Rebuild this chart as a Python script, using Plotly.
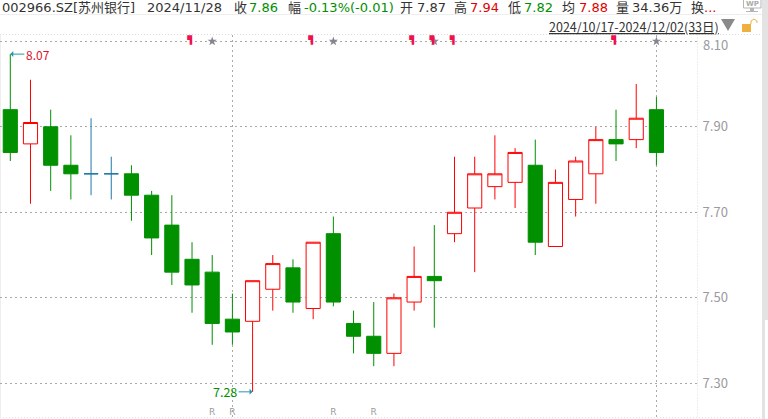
import plotly.graph_objects as go

dates = ["10/17","10/18","10/21","10/22","10/23","10/24","10/25","10/28","10/29","10/30","10/31",
         "11/01","11/04","11/05","11/06","11/07","11/08","11/11","11/12","11/13","11/14","11/15",
         "11/18","11/19","11/20","11/21","11/22","11/25","11/26","11/27","11/28","11/29","12/02"]
opens  = [7.94,7.86,7.90,7.81,7.79,7.79,7.79,7.74,7.67,7.59,7.56,7.45,7.445,7.52,7.57,7.475,7.65,7.44,7.41,7.37,7.49,7.55,7.65,7.71,7.76,7.77,7.81,7.62,7.73,7.79,7.87,7.87,7.94]
closes = [7.84,7.91,7.81,7.79,7.79,7.79,7.74,7.64,7.56,7.53,7.44,7.42,7.54,7.58,7.49,7.63,7.49,7.41,7.37,7.50,7.55,7.54,7.70,7.79,7.79,7.84,7.63,7.77,7.82,7.87,7.86,7.92,7.84]
highs  = [8.07,8.01,7.94,7.88,7.92,7.83,7.81,7.75,7.74,7.63,7.60,7.51,7.54,7.60,7.59,7.63,7.69,7.47,7.49,7.51,7.62,7.67,7.83,7.83,7.88,7.85,7.87,7.80,7.83,7.90,7.94,8.00,7.97]
lows   = [7.82,7.72,7.75,7.73,7.74,7.73,7.68,7.60,7.53,7.465,7.39,7.39,7.28,7.47,7.465,7.45,7.48,7.37,7.34,7.34,7.47,7.43,7.63,7.56,7.73,7.71,7.60,7.62,7.69,7.72,7.82,7.85,7.81]
doji_dates = ["10/23","10/24"]
y_ticks = [7.30,7.50,7.70,7.90,8.10]
month_starts = ["11/01","12/02"]
flag_dates = ["10/30","11/07","11/14","11/15","11/18","11/28"]
star_dates = ["10/31","11/08","11/15","12/02"]
r_dates = ["10/31","11/01","11/08","11/12"]
flag_level = 8.10
r_level = 7.231

header = [(1,"002966.SZ[苏州银行]","#333"),(146,"2024/11/28","#333"),(233,"收","#333"),(248,"7.86","#008f00"),
          (287,"幅","#333"),(303,"-0.13%(-0.01)","#008f00"),(399,"开","#333"),(416,"7.87","#333"),
          (453,"高","#333"),(469,"7.94","#e00000"),(507,"低","#333"),(523,"7.82","#008f00"),
          (561,"均","#333"),(578,"7.88","#e00000"),(615,"量","#333"),(631,"34.36万","#333"),
          (690,"换","#333"),(703,"...","#e00000")]
range_text = "2024/10/17-2024/12/02(33日)"

W, H = 768, 419
L, R, T, B = 0, 71, 35, 1
def px(x): return (x - L) / (W - L - R)
def py(y): return 1 - (y - T) / (H - T - B)
FONT = "Noto Sans CJK SC"
HFONT = "DejaVu Sans, Noto Sans CJK SC"
GREEN, RED, BLUE = "#009000", "#ff0000", "#1f78a8"

keep = [i for i, d in enumerate(dates) if d not in doji_dates]
dj = [i for i, d in enumerate(dates) if d in doji_dates]
def pick(a, idx): return [a[i] for i in idx]

fig = go.Figure()
fig.add_trace(go.Candlestick(x=pick(dates, keep), open=pick(opens, keep), high=pick(highs, keep),
    low=pick(lows, keep), close=pick(closes, keep), whiskerwidth=0,
    increasing=dict(line=dict(color=RED, width=1), fillcolor="#ffffff"),
    decreasing=dict(line=dict(color=GREEN, width=1), fillcolor=GREEN)))
fig.add_trace(go.Candlestick(x=pick(dates, dj), open=pick(opens, dj), high=pick(highs, dj),
    low=pick(lows, dj), close=pick(closes, dj), whiskerwidth=0,
    increasing=dict(line=dict(color=BLUE, width=1), fillcolor=BLUE),
    decreasing=dict(line=dict(color=BLUE, width=1), fillcolor=BLUE)))
fig.add_trace(go.Scatter(x=star_dates, y=[flag_level]*len(star_dates), mode="markers", cliponaxis=False,
    marker=dict(symbol="star", size=7, color="#85858f", line=dict(width=0))))
fig.add_trace(go.Scatter(x=flag_dates, y=[flag_level]*len(flag_dates), mode="text", text=["▜"]*len(flag_dates),
    textposition="middle left", cliponaxis=False,
    textfont=dict(family="DejaVu Sans Mono", size=8, color="#f0104f")))
fig.add_trace(go.Scatter(x=r_dates, y=[r_level]*len(r_dates), mode="text", text=["R"]*len(r_dates),
    textposition="middle center", textfont=dict(family="DejaVu Sans", size=9, color="#9a9a9a")))

ann = [dict(xref="paper", yref="paper", x=px(xp), y=py(7.5), text=t, showarrow=False, xanchor="left",
            yanchor="middle", borderpad=0, font=dict(family=HFONT, size=13, color=c)) for xp, t, c in header]
ann.append(dict(xref="paper", yref="paper", x=px(720), y=py(26), text="<u>%s</u>" % range_text, showarrow=False,
                xanchor="right", yanchor="middle", borderpad=0, font=dict(family=FONT, size=12.5, color="#333")))
ann.append(dict(xref="paper", yref="paper", x=px(752), y=py(4), text="<b>WP</b>", showarrow=False, borderpad=0,
                xanchor="center", yanchor="middle", font=dict(family="DejaVu Sans", size=7, color="#aaa")))
ann.append(dict(x=dates[highs.index(max(highs))], y=max(highs), text="8.07", showarrow=True, axref="pixel", ayref="pixel",
                ax=14, ay=0, xanchor="left", standoff=0, arrowhead=1, arrowwidth=1, arrowsize=1, arrowcolor="#2a95b0",
                font=dict(family=FONT, size=12, color="#e0102a")))
ann.append(dict(x=dates[lows.index(min(lows))], y=min(lows), text="7.28", showarrow=True, axref="pixel", ayref="pixel",
                ax=-14, ay=0, xanchor="right", standoff=0, arrowhead=1, arrowwidth=1, arrowsize=1, arrowcolor="#2a95b0",
                font=dict(family=FONT, size=12.5, color="#008f00")))
ann.append(dict(xref="paper", yref="y", x=px(702), y=y_ticks[-1], yshift=-3, text="%.2f" % y_ticks[-1], showarrow=False,
                xanchor="left", yanchor="middle", borderpad=0, font=dict(family=FONT, size=13, color="#9a9aa0")))

def rect(x0, y0, x1, y1, fill, line=None):
    return dict(type="rect", xref="paper", yref="paper", x0=px(x0), x1=px(x1), y0=py(y0), y1=py(y1),
                fillcolor=fill, line=dict(width=0 if line is None else 1, color=line or fill), layer="above")
def seg(x0, y0, x1, y1, color, dash="solid", width=1):
    return dict(type="line", xref="paper", yref="paper", x0=px(x0), x1=px(x1), y0=py(y0), y1=py(y1),
                line=dict(color=color, width=width, dash=dash), layer="below")
def path(d, fill, line="rgba(0,0,0,0)", width=0):
    return dict(type="path", xref="paper", yref="paper", path=d, fillcolor=fill, line=dict(color=line, width=width), layer="above")
def P(pts, close=True):
    return "M " + " L ".join(f"{px(x):.5f} {py(y):.5f}" for x, y in pts) + (" Z" if close else "")

shapes = [
    seg(0, 14.5, 762, 14.5, "#eeeeee"),
    seg(0, 34.5, 762, 34.5, "#dddddd", "1px,2px"),
    seg(697.5, 34.5, 697.5, 418, "#dddddd", "1px,2px"),
    seg(0, 417.7, 762, 417.7, "#dddddd", "1px,2px"),
    seg(0.5, 34.5, 0.5, 418, "#eeeeee"),
    rect(762, 0, 768, 320, "#e3e3e3"),
    rect(762, 320, 765, 419, "#e3e3e3"),
    path(P([(721, 19), (735, 19), (728, 31)]), "#8a8a8a"),
    rect(742, 24, 751, 32, "#f0b040"),
    path(P([(751, 24), (751, 21), (754, 19), (757, 21), (757, 23)], close=False), "rgba(0,0,0,0)", "#f0b040", 1),
    rect(743.5, -1, 761, 8, "#ffffff", "#b5b5b5"),
    rect(750, 8, 754, 11, "#b5b5b5"),
    rect(746, 11, 758, 12, "#b5b5b5"),
]

fig.update_layout(width=W, height=H, margin=dict(l=L, r=R, t=T, b=B), paper_bgcolor="#ffffff", plot_bgcolor="#ffffff",
    showlegend=False, boxgap=0.3, boxgroupgap=0, annotations=ann, shapes=shapes,
    xaxis=dict(type="category", categoryorder="array", categoryarray=dates, rangeslider=dict(visible=False),
               range=[-0.51, 34.01], tickmode="array", tickvals=month_starts, showticklabels=False, ticks="",
               showgrid=True, gridcolor="#aaaaaa", griddash="2px,3px", gridwidth=1, zeroline=False),
    yaxis=dict(side="right", range=[7.2188, 8.1147], tickmode="array", tickvals=y_ticks,
               ticktext=["" if v == y_ticks[-1] else "%.2f" % v for v in y_ticks], ticks="outside", ticklen=2,
               tickcolor="rgba(0,0,0,0)",
               showgrid=True, gridcolor="#aaaaaa", griddash="2px,3px", gridwidth=1, zeroline=False,
               tickfont=dict(family=FONT, size=13, color="#9a9aa0")))
fig.write_html("out.html", config=dict(displayModeBar=False),
               post_script="document.body.style.margin='0';window.dispatchEvent(new Event('resize'));")
